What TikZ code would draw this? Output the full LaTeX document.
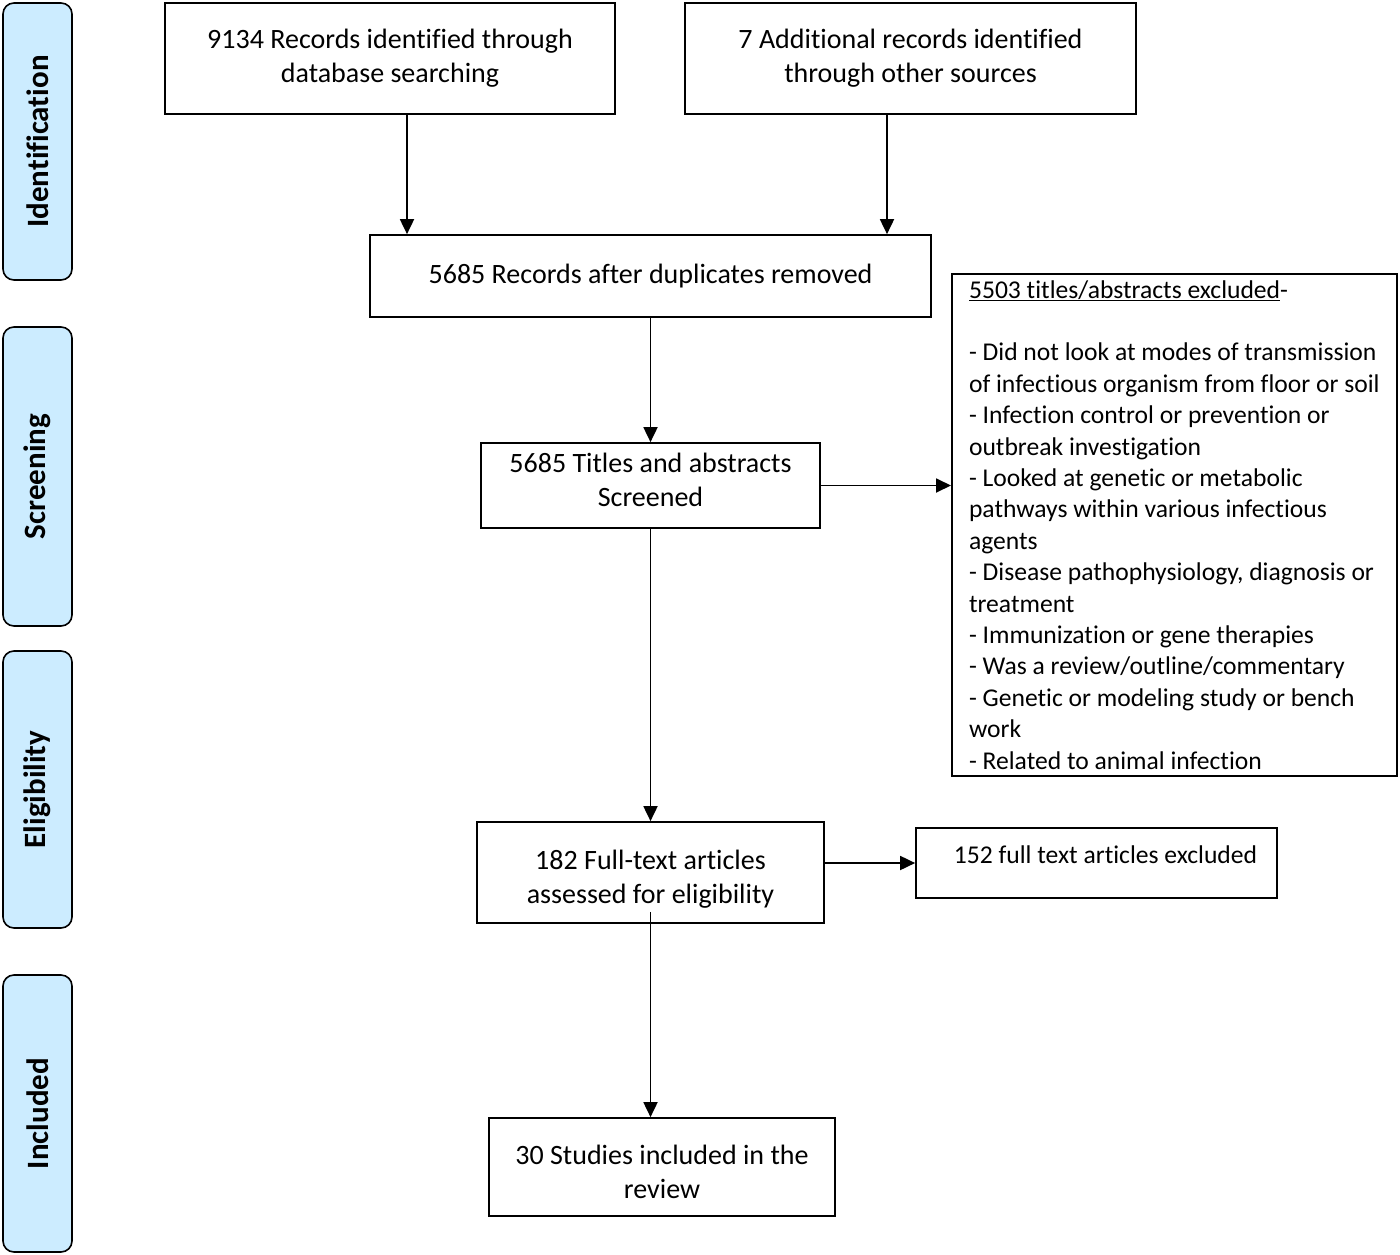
\documentclass[tikz,border=0pt]{standalone}
\usepackage{fontspec}
\setmainfont{Carlito}[Ligatures=NoCommon]
\usetikzlibrary{arrows.meta}
\definecolor{sidefill}{RGB}{204,236,255}
\begin{document}
\begin{tikzpicture}[x=1pt,y=-1pt,
  box/.style={draw, line width=1.7pt, align=center, inner sep=0pt,
    font=\fontsize{28}{34}\selectfont},
  side/.style={draw, line width=1.6pt, rounded corners=11pt, fill=sidefill,
    rotate=90, inner sep=0pt, minimum height=69pt,
    font=\fontsize{31}{36}\selectfont\bfseries},
  arr/.style={line width=1.8pt, -{Triangle[length=15pt,width=14pt]}}]
\useasboundingbox (0,0) rectangle (1400,1255);

% phase labels
\node[side, minimum width=277pt] (S1) at (37.5,141.5) {Identification};
\node[side, minimum width=299pt] (S2) at (37.5,476.5) {Screening};
\node[side, minimum width=277pt] (S3) at (37.5,789.5) {Eligibility};
\node[side, minimum width=277pt] (S4) at (37.5,1113.5) {Included};

% boxes
\node[box, minimum width=450pt, minimum height=111pt] (A) at (390,58.5)
  {9134 Records identified through\\database searching};
\node[box, minimum width=451pt, minimum height=111pt] (B) at (910.5,58.5)
  {7 Additional records identified\\through other sources};
\node[box, minimum width=561pt, minimum height=82pt] (C) at (650.5,276)
  {5685 Records after duplicates removed};
\node[box, minimum width=339pt, minimum height=85pt] (D) at (650.5,485.5)
  {5685 Titles and abstracts\\Screened\rule[-12pt]{0pt}{12pt}};
\node[box, anchor=north west, align=left, minimum width=445pt, minimum height=500pt,
  inner xsep=16pt, inner ysep=6.5pt, font=\fontsize{25.6}{31.4}\selectfont] (E) at (951,273)
  {\underline{5503 titles/abstracts excluded}-\\[31.4pt]
   - Did not look at modes of transmission\\
   of infectious organism from floor or soil\\
   - Infection control or prevention or\\
   outbreak investigation\\
   - Looked at genetic or metabolic\\
   pathways within various infectious\\
   agents\\
   - Disease pathophysiology, diagnosis or\\
   treatment\\
   - Immunization or gene therapies\\
   - Was a review/outline/commentary\\
   - Genetic or modeling study or bench\\
   work\\
   - Related to animal infection};
\node[box, minimum width=347pt, minimum height=101pt] (F) at (650.5,872.5)
  {\rule{0pt}{32pt}182 Full-text articles\\assessed for eligibility};
\node[box, minimum width=361pt, minimum height=70pt, font=\fontsize{25.6}{31.4}\selectfont] (G) at (1096.5,863)
  {\hspace*{18pt}152 full text articles excluded\rule[-16pt]{0pt}{16pt}};
\node[box, minimum width=346pt, minimum height=98pt] (H) at (662,1167)
  {\rule{0pt}{30pt}30 Studies included in the\\review};

% connectors
\coordinate (xa) at (407,0);
\coordinate (xb) at (887,0);
\draw[arr] (A.south -| xa) -- (C.north -| xa);
\draw[arr] (B.south -| xb) -- (C.north -| xb);
\draw[arr] (C.south) -- (D.north);
\draw[arr] (D.east) -- (E.west |- D.east);
\draw[arr] (D.south) -- (F.north);
\draw[arr] (F.east |- G.west) -- (G.west);
\draw[arr] ([yshift=12pt]F.south) -- (H.north -| F.south);
\end{tikzpicture}
\end{document}
